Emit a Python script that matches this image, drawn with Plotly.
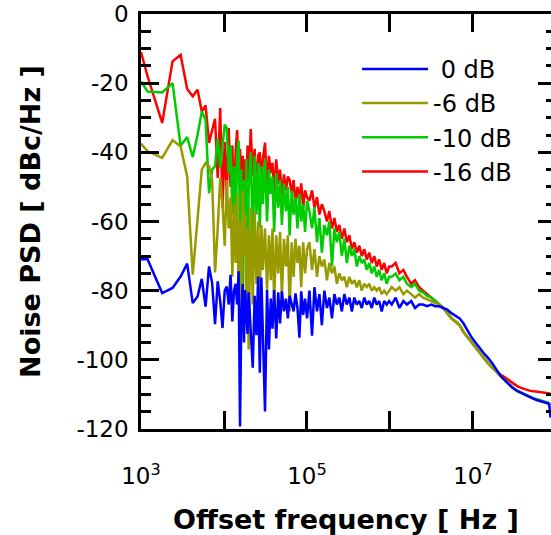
import plotly.graph_objects as go

# Offset frequency grid in kHz (shared by all traces)
freq_khz = [
    1.0, 1.2, 1.8, 2.4, 3.0, 3.6, 4.2, 4.8, 5.4, 6.0, 6.6, 7.2, 7.8, 8.4, 9.0, 9.6,
    10.2, 10.8, 11.4, 12.0, 12.6, 13.2, 13.8, 14.4, 15.0, 15.6, 16.2, 16.8, 17.4, 18.0, 18.6, 19.2,
    19.8, 21, 22.2, 23.4, 24.6, 25.8, 27, 28.2, 29.4, 31.2, 33, 34.8, 36.6, 38.4, 40.2, 42.6,
    45, 47.4, 49.8, 52.8, 55.8, 58.8, 61.8, 65.4, 69, 72.6, 76.8, 81, 85.2, 90, 94.8, 100.2,
    107, 115, 123, 132, 141, 151, 162, 174, 186, 200, 214, 229, 245, 263, 282, 302, 324,
    347, 372, 398, 427, 457, 490, 525, 562, 603, 646, 692, 741, 794, 851, 912, 977,
    1050, 1170, 1300, 1450, 1600, 1800, 2000, 2250, 2500, 2800, 3150, 3500, 3900, 4400, 4900,
    5500, 6200, 6900, 7700, 8600, 9600,
    10700, 12000, 13500, 15000, 17000, 19000, 21500, 24000, 27000, 30000, 34000, 38000, 43000,
    48000, 54000, 60000, 67000, 74000, 80000, 83000, 86000,
]

psd_0db = [
    -70.9, -70.9, -80.7, -79.2, -75.9, -72.2, -83.6, -81.7, -76.6, -84.6, -73.0, -77.8, -89.7, -77.3, -83.0, -90.8,
    -80, -78.8, -84, -75.4, -88.9, -80, -78, -84, -74.4, -119.3, -85.6, -78, -95, -79.8, -86, -92.5,
    -80.5, -92, -102.3, -81.5, -92.9, -75.9, -103.7, -76.2, -90, -114.9, -79.8, -97, -82.3, -91, -79.8, -93.8,
    -80.5, -89.5, -80.2, -86, -82.3, -88, -81.5, -83.9, -86, -80.8, -85, -93.6, -80.2, -87, -82.3, -88,
    -80, -93, -79, -86, -81, -90, -80, -85, -82, -88, -81, -84, -82, -86, -81, -84, -82,
    -86, -82, -84, -83, -85, -82, -84, -83, -85, -82, -84, -83, -86, -83, -84, -83,
    -84, -82, -85, -83, -84, -83, -85, -84, -84, -84.5, -84, -84.5, -84.5, -85, -85.5,
    -86.5, -87.3, -88, -89.5, -91.5, -93.5,
    -95, -96.6, -98.1, -99.3, -100.9, -102.7, -104.6, -105.8, -107.1, -108.1, -109, -109.6, -110.2,
    -110.7, -111.3, -111.7, -112, -112.3, -112.6, -113, -116.7,
]

psd_m6db = [
    -37.5, -39.7, -41.6, -36.5, -38.3, -47, -75.4, -60, -45, -43.1, -44, -48, -74.7, -62, -47.4, -55,
    -67, -48, -62, -53, -76, -55, -72, -52, -80, -60, -84, -51, -70, -58, -88, -62,
    -97, -56, -84, -57, -78, -60, -82, -61, -74, -62, -80, -64, -77, -62, -84, -64,
    -75, -63, -82, -65, -73, -64, -86, -66, -76, -65, -72, -67, -79, -66, -75, -68,
    -66, -74, -68, -76, -70, -73, -71, -77, -72, -75, -73, -78, -75, -77, -76, -79, -76,
    -78, -77, -79, -77, -80, -78, -79, -78, -80, -79, -80, -79, -81, -80, -81, -80,
    -79, -80, -79, -81, -80, -81, -82, -81, -82, -82.5, -83, -83.5, -84, -85, -86.5,
    -88, -89, -90, -92, -93.5, -95,
    -96.5, -98, -99.5, -100.8, -102.2, -103.5, -104.7, -105.8, -107, -108, -109, -109.6, -110.3,
    -110.8, -111.3, -111.7, -112, -112.3, -112.5, -112.7, -113,
]

psd_m10db = [
    -19.5, -22.4, -22.7, -20, -38.1, -35.6, -41.4, -35, -28.2, -30.6, -51.8, -45, -44, -35.9, -44.5, -38,
    -32, -33, -46, -38, -58, -44, -66, -40, -36.6, -62, -45, -84, -48, -70, -42, -84,
    -50, -40, -66, -41, -58, -43, -62, -44, -55, -42, -60, -45, -52, -47, -63, -46,
    -56, -48, -61, -49, -57, -50, -64, -51, -58, -53, -62, -52, -60, -55, -63, -54,
    -57, -62, -56, -66, -59, -69, -61, -64, -60, -73, -62, -66, -63, -70, -65, -72, -67,
    -70, -68, -73, -70, -72, -71, -74, -72, -75, -73, -76, -74, -77, -75, -78, -76,
    -76, -75, -77, -76, -78, -79, -78, -80, -80.5, -81.5, -82, -83, -84, -85, -86.5,
    -88, -89, -90, -92, -93.5, -95,
    -96.5, -98, -99.5, -100.8, -102.2, -103.5, -104.7, -105.8, -107, -108, -108.9, -109.5, -110.1,
    -110.6, -111.1, -111.5, -111.8, -112.1, -112.3, -112.5, -112.8,
]

psd_m16db = [
    -11, -18, -31.5, -13.7, -11.8, -21.7, -23.8, -21.9, -28.2, -26.4, -37.3, -34, -30.3, -47.4, -27.2, -56,
    -37, -52, -33, -50, -38, -56, -40, -33.6, -47, -39, -55, -41, -48, -42, -53, -38,
    -50, -33.3, -47, -39, -52, -41, -40, -49, -42, -37.2, -50, -41, -46, -43, -52, -42,
    -49, -45, -53, -46.4, -51, -47, -48, -52, -48, -55, -50, -54, -49, -56, -51, -53,
    -54, -51, -56, -53, -58, -55, -57, -60, -57, -62, -59, -63, -61, -65, -62, -66, -64,
    -68, -66, -69, -67, -70, -68, -71, -69, -72, -70, -73, -71, -74, -72, -75, -73,
    -73, -72, -75, -74, -76, -78, -77, -79, -80, -81, -82, -83, -84, -85, -86.5,
    -88, -89, -90, -92, -93.5, -95,
    -96.5, -98, -99.5, -100.8, -102.2, -103.3, -104.3, -105, -105.9, -106.8, -107.6, -108.1, -108.6,
    -108.9, -109.1, -109.2, -109.3, -109.4, -109.5, -109.7, -110,
]

series_names = [" 0 dB", "-6 dB", "-10 dB", "-16 dB"]
series_colors = ["#0000ff", "#999900", "#00cc00", "#ff0000"]
series_values = [psd_0db, psd_m6db, psd_m10db, psd_m16db]

x_tick_vals = [1e3, 1e4, 1e5, 1e6, 1e7]
x_tick_text = ["10<sup>3</sup>", "", "10<sup>5</sup>", "", "10<sup>7</sup>"]
y_tick_vals = [0, -20, -40, -60, -80, -100, -120]
y_tick_text = ["0", "-20", "-40", "-60", "-80", "-100", "-120"]

freq_hz = [f * 1e3 for f in freq_khz]

fig = go.Figure()
# draw -16 dB first so that 0 dB ends on top
for name, color, vals in reversed(list(zip(series_names, series_colors, series_values))):
    fig.add_trace(go.Scatter(
        x=freq_hz, y=vals, mode="lines", name=name,
        line=dict(color=color, width=2.5), legendgroup=name,
    ))
# invisible trace to carry the right-hand tick axis
fig.add_trace(go.Scatter(x=[], y=[], yaxis="y2", showlegend=False, hoverinfo="skip"))

font_family = "DejaVu Sans"
fig.update_layout(
    width=551, height=535,
    margin=dict(l=141, r=0, t=14, b=106),
    paper_bgcolor="white", plot_bgcolor="white",
    font=dict(family=font_family, size=23, color="black"),
    showlegend=True,
    legend=dict(
        x=0.527, y=0.921, xanchor="left", yanchor="top",
        bgcolor="rgba(0,0,0,0)", borderwidth=0,
        traceorder="reversed", itemwidth=66, tracegroupgap=0,
        font=dict(family=font_family, size=24, color="black"),
    ),
    xaxis=dict(
        type="log", range=[3, 7.94], automargin=False,
        showline=True, linewidth=2.5, linecolor="black", mirror="ticks",
        ticks="inside", ticklen=18, tickwidth=2.5, tickcolor="black",
        tickvals=x_tick_vals, ticktext=x_tick_text,
        showgrid=False, zeroline=False,
        ticklabelstandoff=25,
        tickfont=dict(family=font_family, size=23),
        title=dict(text="<b>Offset frequency [ Hz ]</b>", font=dict(family=font_family, size=27), standoff=26),
    ),
    yaxis=dict(
        range=[-120, 0], automargin=False,
        showline=True, linewidth=2.5, linecolor="black", mirror=False,
        ticks="inside", ticklen=18, tickwidth=2.5, tickcolor="black",
        tickvals=y_tick_vals, ticktext=y_tick_text,
        minor=dict(ticks="inside", ticklen=10, tickwidth=2.5, tickcolor="black", dtick=5, showgrid=False),
        showgrid=False, zeroline=False,
        ticklabelstandoff=5,
        tickfont=dict(family=font_family, size=23),
        title=dict(text="<b>Noise PSD [ dBc/Hz ]</b>", font=dict(family=font_family, size=27), standoff=28),
    ),
    yaxis2=dict(
        range=[-120, 0], overlaying="y", side="right", automargin=False,
        showline=False, showgrid=False, zeroline=False, showticklabels=False,
        ticks="inside", ticklen=13, tickwidth=2.5, tickcolor="black",
        tickvals=y_tick_vals,
        minor=dict(ticks="inside", ticklen=5, tickwidth=2.5, tickcolor="black", dtick=5, showgrid=False),
    ),
)

fig.write_html(
    "out.html",
    config={"displayModeBar": False},
    post_script="document.body.style.margin='0px';document.body.style.overflow='hidden';",
)
